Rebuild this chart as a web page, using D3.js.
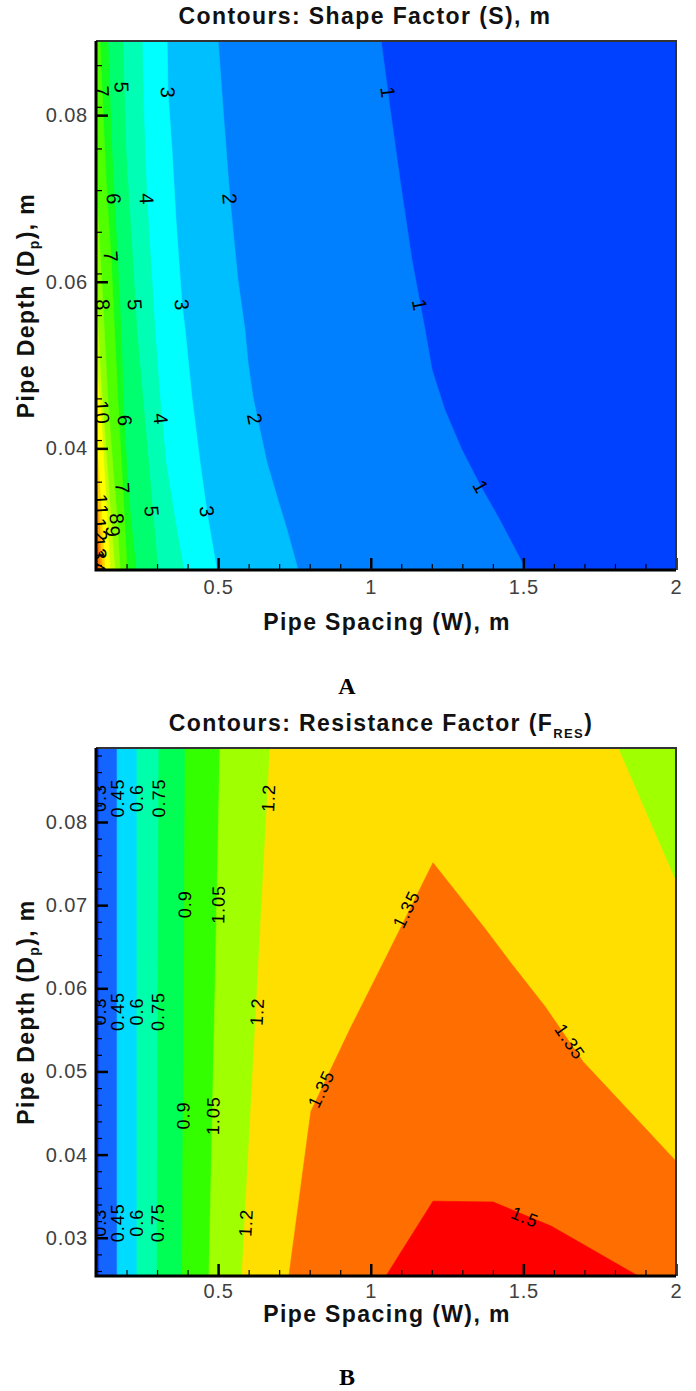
<!DOCTYPE html>
<html lang="en">
<head>
  <meta charset="UTF-8">
  <title>Contours: Shape Factor and Resistance Factor</title>
  <script src="https://d3js.org/d3.v7.min.js"></script>
  <style>
    body { margin: 0; background: #fff; }
    svg { display: block; font-family: 'Liberation Sans', Arial, sans-serif; }
    .axis text { font-family: 'Liberation Sans', Arial, sans-serif; font-size: 20px; fill: #404040; letter-spacing: 0.8px; }
    .axis .tick line { stroke: #000; stroke-width: 2.5; }
    .minor .tick line { stroke: #000; stroke-width: 1.2; }
    .title { font-weight: bold; font-size: 23px; letter-spacing: 1.4px; fill: #111; }
    .clabel { letter-spacing: 1px; fill: #000; }
    .panel-letter { font-family: 'Liberation Serif', 'Times New Roman', serif; font-weight: bold; font-size: 24px; fill: #000; }
  </style>
</head>
<body>
<svg id="chart" width="696" height="1391"></svg>
<script>
// axis extents (pipe spacing W in m, pipe depth Dp in m)
const spacingRange = [0.1, 2];
const depthRange = [0.0254, 0.0889];

const spacingTicks = [0.5, 1, 1.5, 2];
const depthTicksA = [0.04, 0.06, 0.08];
const depthTicksB = [0.03, 0.04, 0.05, 0.06, 0.07, 0.08];

// ---- A: shape factor S, contour lines, [W, Dp] from top to bottom
const shapeLevels = [1, 2, 3, 4, 5, 6, 7, 8, 9, 10, 11, 12, 13, 14];
const shapeContours = [
  [[[1.034, 0.0889], [1.064, 0.0806], [1.096, 0.0722], [1.135, 0.0626], [1.178, 0.0542], [1.201, 0.0494],
    [1.243, 0.0446], [1.299, 0.0398], [1.358, 0.0356], [1.423, 0.0314], [1.509, 0.0254]]],
  [[[0.500, 0.0889], [0.519, 0.0794], [0.539, 0.0698], [0.565, 0.0602], [0.588, 0.0542], [0.598, 0.0503],
    [0.614, 0.0462], [0.637, 0.0422], [0.660, 0.0383], [0.693, 0.0342], [0.726, 0.0302], [0.762, 0.0254]]],
  [[[0.333, 0.0889], [0.336, 0.0827], [0.349, 0.0758], [0.362, 0.0674], [0.382, 0.0572], [0.392, 0.0542],
    [0.414, 0.0462], [0.441, 0.0383], [0.464, 0.0322], [0.496, 0.0254]]],
  [[[0.251, 0.0889], [0.257, 0.0794], [0.267, 0.0698], [0.283, 0.0602], [0.293, 0.0542], [0.310, 0.0458],
    [0.329, 0.0383], [0.359, 0.0314], [0.388, 0.0254]]],
  [[[0.188, 0.0889], [0.198, 0.0758], [0.218, 0.0638], [0.234, 0.0542], [0.254, 0.0458], [0.277, 0.0362], [0.303, 0.0254]]],
  [[[0.139, 0.0889], [0.152, 0.0758], [0.169, 0.0638], [0.182, 0.0542], [0.192, 0.0434], [0.208, 0.0338], [0.231, 0.0254]]],
  [[[0.113, 0.0889], [0.120, 0.0827], [0.133, 0.0722], [0.149, 0.0630], [0.162, 0.0530], [0.175, 0.0434],
    [0.188, 0.0350], [0.202, 0.0254]]],
  [[[0.100, 0.0722], [0.113, 0.0638], [0.123, 0.0572], [0.139, 0.0458], [0.156, 0.0374], [0.169, 0.0318], [0.179, 0.0254]]],
  [[[0.100, 0.0590], [0.116, 0.0482], [0.133, 0.0398], [0.152, 0.0300], [0.162, 0.0254]]],
  [[[0.100, 0.0506], [0.116, 0.0443], [0.129, 0.0362], [0.146, 0.0254]]],
  [[[0.100, 0.0422], [0.116, 0.0332], [0.129, 0.0254]]],
  [[[0.100, 0.0362], [0.113, 0.0302], [0.120, 0.0254]]],
  [[[0.100, 0.0320], [0.110, 0.0278], [0.113, 0.0254]]],
  [[[0.100, 0.0290], [0.107, 0.0254]]]
];
// [level, W, Dp]
const shapeLabels = [
  [7, 0.120, 0.0828], [5, 0.185, 0.0833], [3, 0.336, 0.0827], [1, 1.057, 0.0827],
  [6, 0.159, 0.0699], [4, 0.267, 0.0699], [2, 0.539, 0.0699],
  [7, 0.149, 0.0630],
  [8, 0.123, 0.0572], [5, 0.228, 0.0572], [3, 0.382, 0.0572], [1, 1.161, 0.0572],
  [10, 0.120, 0.0443], [6, 0.195, 0.0433], [4, 0.313, 0.0435], [2, 0.621, 0.0435],
  [7, 0.188, 0.0352], [1, 1.361, 0.0354],
  [5, 0.283, 0.0324], [3, 0.464, 0.0324], [8, 0.169, 0.0315], [9, 0.156, 0.0300],
  [11, 0.116, 0.0332], [12, 0.113, 0.0302], [13, 0.110, 0.0280], [14, 0.107, 0.0264]
];
const shapeColors = ["#0040ff", "#0080ff", "#00bfff", "#00ffff", "#00ffb4", "#00ff6e", "#14ff1e", "#50ff00",
  "#8cff00", "#c8ff00", "#ffff00", "#ffd200", "#ffa000", "#ff6e00", "#ff3200"];

// ---- B: resistance factor F_RES, [W, Dp], higher values on the right of each line
const resLevels = [0.3, 0.45, 0.6, 0.75, 0.9, 1.05, 1.2, 1.35, 1.5];
const resContours = [
  [[[0.110, 0.0254], [0.110, 0.0889]]],
  [[[0.169, 0.0254], [0.169, 0.0889]]],
  [[[0.234, 0.0254], [0.234, 0.0889]]],
  [[[0.300, 0.0254], [0.303, 0.0601], [0.306, 0.0889]]],
  [[[0.382, 0.0254], [0.388, 0.0601], [0.392, 0.0889]]],
  [[[0.470, 0.0254], [0.490, 0.0601], [0.506, 0.0889]]],
  [[[0.578, 0.0254], [0.670, 0.0889]], [[1.810, 0.0889], [1.908, 0.0806], [2.0, 0.0728]]],
  [[[0.732, 0.0254], [0.804, 0.0452], [0.932, 0.0551], [1.047, 0.0635], [1.204, 0.0751], [1.374, 0.0672],
    [1.456, 0.0632], [1.571, 0.0578], [1.695, 0.0512], [2.0, 0.0392]]],
  [[[1.050, 0.0254], [1.204, 0.0344], [1.401, 0.0343], [1.591, 0.0314], [1.876, 0.0254]]]
];
const resLabels = [
  [0.3, 0.110, 0.0829], [0.45, 0.169, 0.0829], [0.6, 0.234, 0.0829], [0.75, 0.305, 0.0829], [1.2, 0.664, 0.0829],
  [0.9, 0.390, 0.0701], [1.05, 0.500, 0.0701],
  [0.3, 0.110, 0.0572], [0.45, 0.169, 0.0572], [0.6, 0.234, 0.0572], [0.75, 0.302, 0.0572], [1.2, 0.627, 0.0572],
  [0.9, 0.385, 0.0447], [1.05, 0.483, 0.0447],
  [0.3, 0.110, 0.0318], [0.45, 0.169, 0.0318], [0.6, 0.234, 0.0318], [0.75, 0.301, 0.0318], [1.2, 0.590, 0.0318],
  [1.35, 1.116, 0.0695], [1.35, 0.837, 0.0479], [1.35, 1.653, 0.0536], [1.5, 1.505, 0.0325]
];
const resColors = ["#0030ff", "#1464ff", "#00dcff", "#00ffaa", "#00ff55", "#33ff00", "#a0ff00", "#ffdf00", "#ff6e00", "#ff0000"];

const svg = d3.select("#chart");
const x = d3.scaleLinear().domain(spacingRange).range([96, 676]);

// position of a boundary point along the frame, clockwise from the top-left corner (0..4)
function edgePos(p) {
  const fw = (p[0] - spacingRange[0]) / (spacingRange[1] - spacingRange[0]);
  const fd = (p[1] - depthRange[0]) / (depthRange[1] - depthRange[0]);
  if (Math.abs(fd - 1) < 1e-3) return fw;
  if (Math.abs(fw - 1) < 1e-3) return 2 - fd;
  if (Math.abs(fd) < 1e-3) return 3 - fw;
  return 3 + fd;
}
function corner(k) {
  return [[spacingRange[0], depthRange[1]], [spacingRange[1], depthRange[1]],
          [spacingRange[1], depthRange[0]], [spacingRange[0], depthRange[0]]][k % 4];
}
// close the contour lines of one level into the region where value >= level
function superlevelRing(lines) {
  const rest = lines.slice(1);
  const first = lines[0];
  const ring = [];
  let cur = first;
  while (true) {
    ring.push(...cur);
    const tEnd = edgePos(cur[cur.length - 1]);
    let best = first, bestGap = Infinity;
    rest.concat([first]).forEach(l => {
      const gap = ((edgePos(l[0]) - tEnd) % 4 + 4) % 4;
      if (gap < bestGap) { bestGap = gap; best = l; }
    });
    for (let c = Math.floor(tEnd) + 1; c < tEnd + bestGap; c++) ring.push(corner(c));
    if (best === first) break;
    rest.splice(rest.indexOf(best), 1);
    cur = best;
  }
  return ring;
}

function drawPanel(p) {
  const y = d3.scaleLinear().domain(depthRange).range([p.bottom, p.top]);
  const g = svg.append("g");
  const x0 = x(spacingRange[0]), x1 = x(spacingRange[1]);
  const y0 = y(depthRange[1]), y1 = y(depthRange[0]);

  svg.append("clipPath").attr("id", "clip-" + p.id)
    .append("rect").attr("x", x0).attr("y", y0).attr("width", x1 - x0).attr("height", y1 - y0);
  const plot = g.append("g").attr("clip-path", `url(#clip-${p.id})`);

  plot.append("rect")
    .attr("x", x0).attr("y", y0).attr("width", x1 - x0).attr("height", y1 - y0)
    .attr("fill", p.colors[0]);

  const line = d3.line().x(d => x(d[0])).y(d => y(d[1]));
  plot.selectAll("path.band")
    .data(p.contours)
    .join("path")
    .attr("class", "band")
    .attr("d", lines => line(superlevelRing(lines)) + "Z")
    .attr("fill", (d, i) => p.colors[i + 1])
    .attr("stroke", (d, i) => p.colors[i + 1])
    .attr("stroke-width", 0.6);

  // labels turned along the nearest contour segment
  function angleAt(lines, px, py) {
    let best = Infinity, ang = 90;
    lines.forEach(l => {
      for (let i = 1; i < l.length; i++) {
        const ax = x(l[i - 1][0]), ay = y(l[i - 1][1]);
        const dx = x(l[i][0]) - ax, dy = y(l[i][1]) - ay;
        const t = Math.max(0, Math.min(1, ((px - ax) * dx + (py - ay) * dy) / (dx * dx + dy * dy)));
        const dist = Math.hypot(ax + t * dx - px, ay + t * dy - py);
        if (dist < best) { best = dist; ang = Math.atan2(dy, dx) * 180 / Math.PI; }
      }
    });
    return ang;
  }
  plot.selectAll("text.clabel")
    .data(p.labels)
    .join("text")
    .attr("class", "clabel")
    .attr("font-size", p.labelSize)
    .attr("text-anchor", "middle")
    .attr("dy", "0.36em")
    .attr("transform", d => {
      const px = x(d[1]), py = y(d[2]);
      const a = angleAt(p.contours[p.levels.indexOf(d[0])], px, py);
      return `translate(${px},${py}) rotate(${a})`;
    })
    .text(d => d[0]);

  // axes, ticks pointing inwards
  const xMinor = d3.range(2, 20).filter(v => v % 5 !== 0).map(v => v / 10);
  g.append("g").attr("class", "axis minor").attr("transform", `translate(0,${p.bottom})`)
    .call(d3.axisBottom(x).tickValues(xMinor).tickSize(-6).tickFormat(""))
    .call(a => a.select(".domain").remove());
  g.append("g").attr("class", "axis").attr("transform", `translate(0,${p.bottom})`)
    .call(d3.axisBottom(x).tickValues(spacingTicks).tickSize(-12).tickPadding(p.xPad).tickFormat(d3.format("")))
    .call(a => a.select(".domain").remove());

  const yMinor = d3.range(26, 89, p.minorStep).filter(v => v % 10 !== 0).map(v => v / 1000);
  g.append("g").attr("class", "axis minor").attr("transform", `translate(${x0},0)`)
    .call(d3.axisLeft(y).tickValues(yMinor).tickSize(-6).tickFormat(""))
    .call(a => a.select(".domain").remove());
  g.append("g").attr("class", "axis").attr("transform", `translate(${x0},0)`)
    .call(d3.axisLeft(y).tickValues(p.depthTicks).tickSize(-12).tickPadding(8).tickFormat(d3.format("")))
    .call(a => a.select(".domain").remove());

  // frame
  g.append("path").attr("d", `M${x0},${y0}H${x1}V${y1}`)
    .attr("fill", "none").attr("stroke", "#333").attr("stroke-width", 2);
  g.append("path").attr("d", `M${x0},${y0}V${y1}H${x1}`)
    .attr("fill", "none").attr("stroke", "#000").attr("stroke-width", 3);

  // titles
  const title = g.append("text").attr("class", "title").attr("text-anchor", "middle")
    .attr("x", p.titleX).attr("y", p.top - 17);
  title.append("tspan").text(p.title);
  if (p.titleSub) {
    title.append("tspan").attr("dy", 7).attr("font-size", 13).text(p.titleSub);
    title.append("tspan").attr("dy", -7).text(")");
  }
  g.append("text").attr("class", "title").attr("text-anchor", "middle")
    .attr("x", 387).attr("y", p.bottom + p.xTitleGap)
    .text("Pipe Spacing (W), m");
  const yt = g.append("text").attr("class", "title").attr("text-anchor", "middle")
    .attr("transform", `translate(34,${(y0 + y1) / 2}) rotate(-90)`);
  yt.append("tspan").text("Pipe Depth (D");
  yt.append("tspan").attr("dy", 5).attr("font-size", 14).text("p");
  yt.append("tspan").attr("dy", -5).text("), m");

  g.append("text").attr("class", "panel-letter").attr("text-anchor", "middle")
    .attr("x", 347).attr("y", p.letterY).text(p.letter);
}

drawPanel({
  id: "a", top: 41, bottom: 570, levels: shapeLevels, contours: shapeContours, labels: shapeLabels,
  colors: shapeColors, depthTicks: depthTicksA, minorStep: 5, xPad: 10, xTitleGap: 60, labelSize: 20,
  title: "Contours: Shape Factor (S), m", titleX: 365, letter: "A", letterY: 694
});
drawPanel({
  id: "b", top: 748, bottom: 1276, levels: resLevels, contours: resContours, labels: resLabels,
  colors: resColors, depthTicks: depthTicksB, minorStep: 2, xPad: 8, xTitleGap: 46, labelSize: 18,
  title: "Contours: Resistance Factor (F", titleSub: "RES", titleX: 381, letter: "B", letterY: 1385
});
</script>
</body>
</html>
